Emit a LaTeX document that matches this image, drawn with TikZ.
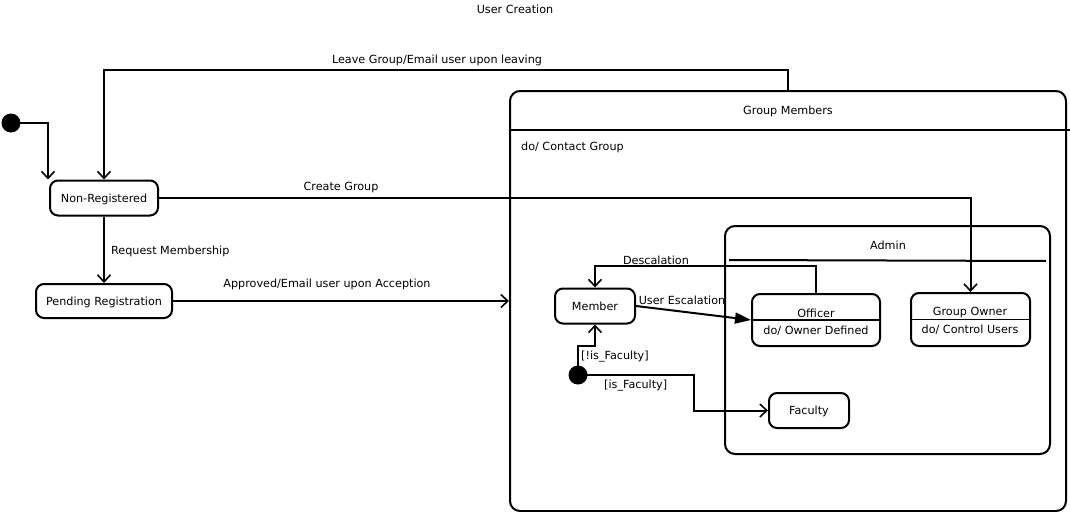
\documentclass[tikz,border=0pt]{standalone}
\usepackage{fontspec}
\setmainfont{DejaVu Sans}
\usetikzlibrary{arrows.meta,calc}
\begin{document}
\begin{tikzpicture}[x=1pt,y=-1pt,
  every node/.style={font=\fontsize{11.2}{13}\selectfont, inner sep=0pt},
  state/.style={draw, line width=2pt, rounded corners=8pt, text depth=0pt, text height=8pt},
  region/.style={draw, line width=2pt, rounded corners=10pt},
  initdot/.style={circle, fill=black, minimum size=19pt},
  txt/.style={yshift=-1.5pt},
  edge/.style={line width=2pt, -{Straight Barb[length=7pt,width=13pt,line width=1.6pt]}},
  fedge/.style={line width=2pt, -{Triangle[length=16pt,width=11pt]}}]
\useasboundingbox (0,0) rectangle (1070,511);

% title
\node[txt] (title) at (515,8) {User Creation};

% composite states
\node[region, minimum width=556pt, minimum height=420pt] (gm) at (788,301) {};
\node[txt] (gmname) at (788,110) {Group Members};
\coordinate (gmrule) at (1070,130);
\draw[line width=2pt] (gm.west |- gmrule) -- (gmrule);
\node[txt, anchor=west] (gmdo) at (521,146) {do/ Contact Group};

\node[region, minimum width=325pt, minimum height=228pt] (adm) at (887.5,340) {};
\node[txt] (admname) at (888,244) {Admin};
\coordinate (admrule) at (1046,261);
\draw[line width=2pt] (729,260) -- (admrule);

% simple states
\node[state, minimum width=108pt, minimum height=35pt] (nr) at (104,198) {Non-Registered};
\node[state, minimum width=136pt, minimum height=34pt] (pr) at (104,301) {Pending Registration};
\node[state, minimum width=80pt, minimum height=35pt] (mem) at (595,306) {Member};
\node[state, minimum width=80pt, minimum height=35pt] (fac) at (809,410.5) {Faculty};

\node[state, minimum width=128pt, minimum height=52pt] (off) at (816,320) {};
\draw[line width=1.8pt] (off.west) -- (off.east);
\node[txt] (offname) at (816,312) {Officer};
\node[txt] (offdo) at (816,329) {do/ Owner Defined};

\node[state, minimum width=119pt, minimum height=53pt] (go) at (970.5,319.5) {};
\draw[line width=1.8pt] (go.west) -- (go.east);
\node[txt] (goname) at (970,311.5) {Group Owner};
\node[txt] (godo) at (970,328) {do/ Control Users};

% initial pseudostates
\node[initdot] (i1) at (11,123) {};
\node[initdot] (i2) at (578,375) {};

% transitions
\draw[edge] (i1.center) -| ([xshift=-1pt]nr.north west);
\draw[edge] (gm.north) -- ++(0,-20) -| (nr.north);
\node[txt] (leave) at (437,59) {Leave Group/Email user upon leaving};

\draw[edge] (nr.south) -- (pr.north);
\node[txt, anchor=west] (req) at (111,250) {Request Membership};

\draw[edge] (nr.east) -| (go.north);
\node[txt] (create) at (341,186) {Create Group};

\draw[edge] (pr.east) -- (pr.east -| gm.west);
\node[txt] (appr) at (327,283) {Approved/Email user upon Acception};

\draw[edge] (i2.center) -- ++(0,-29) -| (mem.south);
\node[txt, anchor=west] (notfac) at (581,355) {[!is\_Faculty]};

\draw[edge] (i2.center) -- ++(116,0) |- (fac.west);
\node[txt, anchor=west] (isfac) at (604,384) {[is\_Faculty]};

\draw[edge] (off.north) -- ++(0,-27) -| (mem.north);
\node[txt] (desc) at (656,259) {Descalation};

\draw[fedge] (mem.east) -- (off.west);
\node[txt] (esc) at (682,299) {User Escalation};
\end{tikzpicture}
\end{document}
